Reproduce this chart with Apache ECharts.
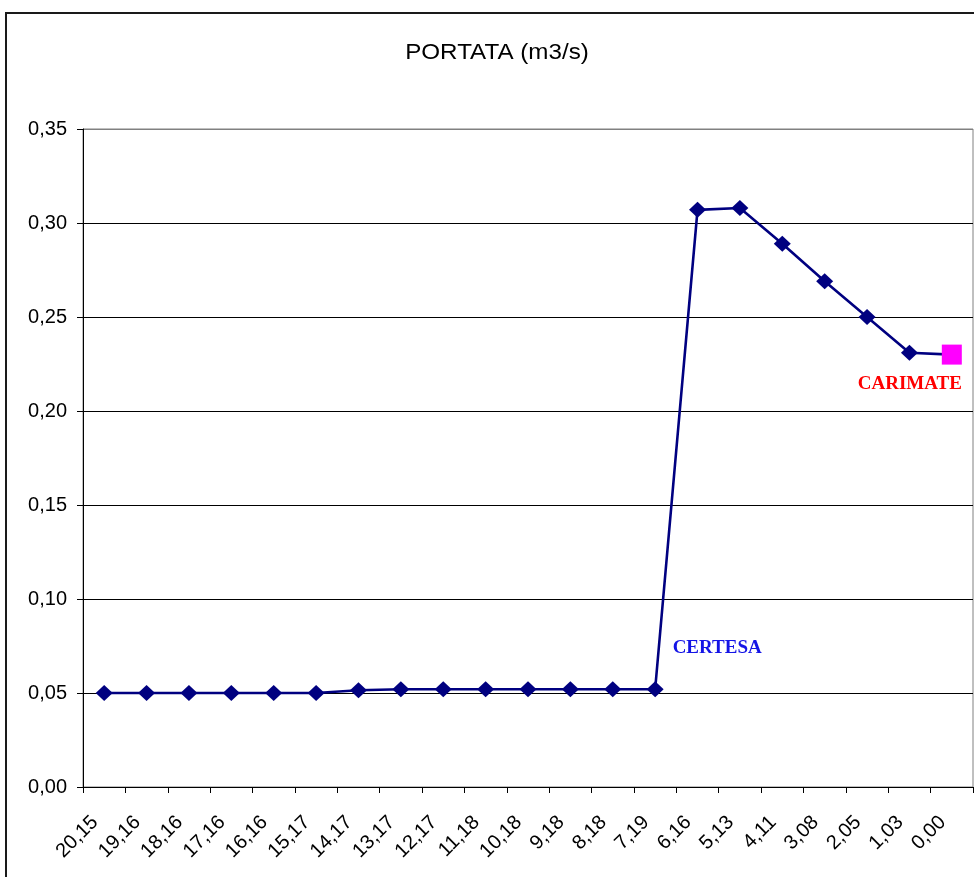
<!DOCTYPE html>
<html>
<head>
<meta charset="utf-8">
<title>PORTATA (m3/s)</title>
<script src="https://cdn.jsdelivr.net/npm/echarts@6/dist/echarts.min.js"></script>
<style>
  html, body { margin: 0; padding: 0; background: #ffffff; }
  #chart { width: 974px; height: 877px; }
</style>
</head>
<body>
<div id="chart"></div>
<script>
// Progressive distance along the channel (km), read left to right
const categories = ['20,15', '19,16', '18,16', '17,16', '16,16', '15,17', '14,17', '13,17',
  '12,17', '11,18', '10,18', '9,18', '8,18', '7,19', '6,16', '5,13', '4,11', '3,08',
  '2,05', '1,03', '0,00'];

// Discharge (m3/s) at each section
const portata = [0.050, 0.050, 0.050, 0.050, 0.050, 0.050, 0.0515, 0.052,
  0.052, 0.052, 0.052, 0.052, 0.052, 0.052, 0.307, 0.308, 0.289, 0.269,
  0.250, 0.231, 0.230];

// Named places along the profile
const stationIndex = [13, 20];
const stationName = ['CERTESA', 'CARIMATE'];

// Value axis ticks
const yMin = 0;
const yMax = 0.35;
const yStep = 0.05;

const chart = echarts.init(document.getElementById('chart'), null, { renderer: 'canvas' });

const lastIndex = portata.length - 1;
const seriesData = portata.map(function (v, i) {
  const item = { value: v };
  if (i === lastIndex) {
    item.symbol = 'rect';
    item.symbolSize = 20;
    item.itemStyle = { color: '#FF00FF' };
  }
  const k = stationIndex.indexOf(i);
  if (k >= 0) {
    const isEnd = i === lastIndex;
    item.label = {
      show: true,
      formatter: stationName[k],
      position: isEnd ? 'bottom' : 'right',
      distance: isEnd ? 10 : 9,
      offset: isEnd ? [-42, 0] : [0, -41],
      color: isEnd ? '#FF0000' : '#1414E6',
      fontFamily: 'Liberation Serif',
      fontWeight: 'bold',
      fontSize: 19
    };
  }
  return item;
});

const gridLineColors = [];
for (let v = yMin; v <= yMax + 1e-9; v += yStep) gridLineColors.push('#000000');
gridLineColors[gridLineColors.length - 1] = '#808080';

chart.setOption({
  backgroundColor: '#ffffff',
  animation: false,
  graphic: [
    {
      type: 'rect',
      z: -10,
      shape: { x: 6, y: 13, width: 1000, height: 1000 },
      style: { fill: 'none', stroke: '#1a1a1a', lineWidth: 2 }
    },
    {
      type: 'text',
      x: 497,
      y: 53,
      scaleX: 1.1,
      style: {
        text: 'PORTATA (m3/s)',
        fill: '#000000',
        font: '22px "Liberation Sans", Arial, sans-serif',
        textAlign: 'center',
        textVerticalAlign: 'middle'
      }
    }
  ],
  grid: {
    left: 83, right: 1, top: 129, bottom: 90,
    show: true,
    borderColor: '#808080',
    borderWidth: 1,
    backgroundColor: '#ffffff'
  },
  xAxis: {
    type: 'category',
    data: categories,
    boundaryGap: true,
    axisLine: { show: true, lineStyle: { color: '#000000', width: 1 } },
    axisTick: { show: true, length: 6, alignWithLabel: false, lineStyle: { color: '#000000' } },
    splitLine: { show: false },
    axisLabel: {
      interval: 0,
      rotate: 45,
      margin: 23,
      padding: [0, 13, 0, 0],
      color: '#000000',
      fontFamily: 'Liberation Sans',
      fontSize: 20
    }
  },
  yAxis: {
    type: 'value',
    min: yMin,
    max: yMax,
    interval: yStep,
    axisLine: { show: true, lineStyle: { color: '#000000', width: 1 } },
    axisTick: { show: true, length: 6, lineStyle: { color: '#000000' } },
    splitLine: { show: true, lineStyle: { color: gridLineColors, width: 1 } },
    axisLabel: {
      margin: 16,
      color: '#000000',
      fontFamily: 'Liberation Sans',
      fontSize: 20,
      formatter: function (v) { return v.toFixed(2).replace('.', ','); }
    }
  },
  series: [
    {
      name: 'PORTATA (m3/s)',
      type: 'line',
      data: seriesData,
      symbol: 'diamond',
      symbolSize: [17, 16],
      showAllSymbol: true,
      lineStyle: { color: '#000080', width: 2.6 },
      itemStyle: { color: '#000080' },
      emphasis: { disabled: true }
    }
  ]
});
</script>
</body>
</html>
